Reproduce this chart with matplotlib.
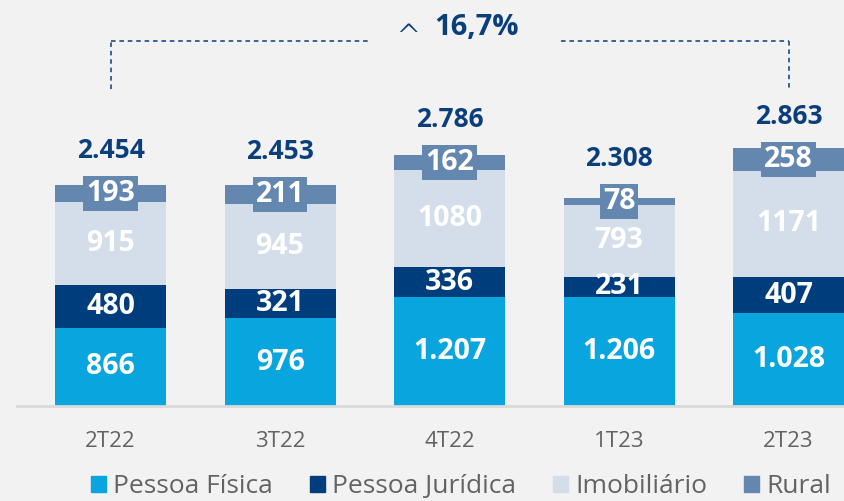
import matplotlib
matplotlib.use("Agg")
import matplotlib.pyplot as plt
from matplotlib.patches import Patch
import numpy as np

categories = ["2T22", "3T22", "4T22", "1T23", "2T23"]
pessoa_fisica = [866, 976, 1207, 1206, 1028]
pessoa_juridica = [480, 321, 336, 231, 407]
imobiliario = [915, 945, 1080, 793, 1171]
rural = [193, 211, 162, 78, 258]
totals = [2454, 2453, 2786, 2308, 2863]
pf_labels = ["866", "976", "1.207", "1.206", "1.028"]
pj_labels = ["480", "321", "336", "231", "407"]
im_labels = ["915", "945", "1080", "793", "1171"]
ru_labels = ["193", "211", "162", "78", "258"]
total_labels = ["2.454", "2.453", "2.786", "2.308", "2.863"]
series_names = ["Pessoa Física", "Pessoa Jurídica", "Imobiliário", "Rural"]
growth_label = "16,7%"

C_PF = "#09a5de"
C_PJ = "#003d7c"
C_IM = "#d3deea"
C_RU = "#6487af"
NAVY = "#0b3f7c"
BG = "#f2f2f2"
GREY = "#636363"

plt.rcParams['font.family'] = ['Open Sans', 'DejaVu Sans']

fig = plt.figure(figsize=(8.45, 5.01), dpi=100, facecolor=BG)
ax = fig.add_axes([17/845, 95/501, 1 - 17/845, 406/501])
ax.set_facecolor(BG)

x = np.arange(len(categories))
w = 0.655
pf = np.array(pessoa_fisica)
pj = np.array(pessoa_juridica)
im = np.array(imobiliario)
ru = np.array(rural)

ax.bar(x, pf, w, color=C_PF)
ax.bar(x, pj, w, bottom=pf, color=C_PJ)
ax.bar(x, im, w, bottom=pf + pj, color=C_IM)
ax.bar(x, ru, w, bottom=pf + pj + im, color=C_RU)

LFS = 20.5
for i in range(len(x)):
    ax.text(x[i], pf[i] / 2, pf_labels[i], ha='center', va='center', color='white',
            fontsize=LFS, fontweight='bold')
    ax.text(x[i], pf[i] + pj[i] / 2, pj_labels[i], ha='center', va='center', color='white',
            fontsize=LFS, fontweight='bold')
    ax.text(x[i], pf[i] + pj[i] + im[i] / 2, im_labels[i], ha='center', va='center', color='white',
            fontsize=LFS, fontweight='bold')
    rc = pf[i] + pj[i] + im[i] + ru[i] / 2
    ax.text(x[i], rc, ru_labels[i], ha='center', va='center', color='white',
            fontsize=LFS, fontweight='bold',
            bbox=dict(boxstyle='square,pad=0.1', facecolor=C_RU, edgecolor='none'))
    ax.annotate(total_labels[i], xy=(x[i], rc), xytext=(0, 25.5), textcoords='offset points',
                ha='center', va='baseline', color=NAVY, fontsize=19, fontweight='bold')

ax.set_xlim(-0.5516, 4.333)
ax.set_ylim(0, 4506)

# growth bracket
ytop = 4051
ybot = 3518
dash = dict(color=NAVY, lw=1.1, linestyle=(0, (3, 2.5)))
ax.plot([0, 0], [ybot, ytop], **dash)
ax.plot([0, 1.525], [ytop, ytop], **dash)
ax.plot([2.658, 4], [ytop, ytop], **dash)
ax.plot([4, 4], [ytop, ybot], **dash)
ax.text(1.755, 3990, "^", ha='center', va='baseline', color=NAVY, fontsize=22,
        family=['DejaVu Sans'], fontweight='light')
ax.text(2.156, 4206, growth_label, ha='center', va='center', color=NAVY,
        fontsize=21, fontweight='bold')

for s in ['top', 'right', 'left']:
    ax.spines[s].set_visible(False)
ax.spines['bottom'].set_color('#d9d9d9')
ax.spines['bottom'].set_linewidth(2)
ax.set_yticks([])
ax.set_xticks(x)
ax.set_xticklabels(categories, fontsize=16, color=GREY)
ax.tick_params(axis='x', length=0, pad=18)

handles = [Patch(color=c) for c in [C_PF, C_PJ, C_IM, C_RU]]
fig.legend(handles, series_names, loc='center left', bbox_to_anchor=(91/845, 0.029), ncol=4,
           frameon=False, fontsize=19, handlelength=0.57, handleheight=0.57,
           handletextpad=0.27, columnspacing=1.4, borderpad=0, borderaxespad=0,
           labelcolor=GREY)

fig.savefig("out.png", dpi=100, facecolor=BG)
